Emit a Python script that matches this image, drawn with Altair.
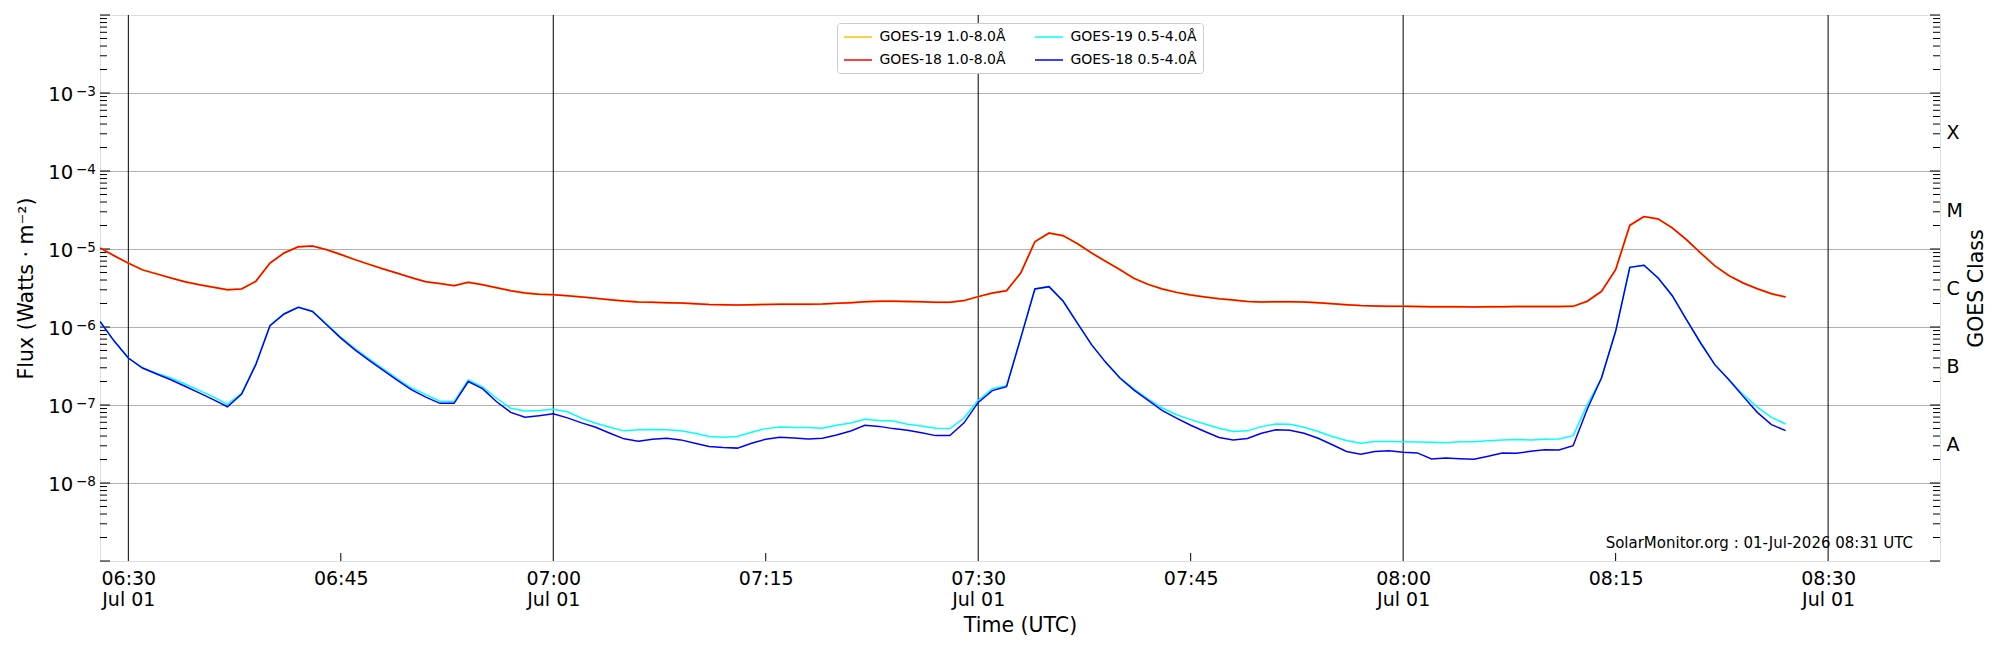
import altair as alt
import pandas as pd
import math

# ---------------- data ----------------
START = "2026-07-01 06:28:00"
X_END = "2026-07-01 08:37:54"
N_POINTS = 120  # 1-minute cadence

GOES18_XRSB = [1.03e-5, 8.2e-6, 6.6e-6, 5.4e-6, 4.8e-6, 4.26e-6, 3.8e-6, 3.49e-6, 3.23e-6, 3.0e-6,
               3.08e-6, 3.85e-6, 6.6e-6, 8.9e-6, 1.07e-5, 1.09e-5, 9.8e-6, 8.5e-6, 7.3e-6, 6.35e-6,
               5.55e-6, 4.88e-6, 4.29e-6, 3.8e-6, 3.6e-6, 3.39e-6, 3.74e-6, 3.49e-6, 3.19e-6, 2.92e-6,
               2.73e-6, 2.63e-6, 2.6e-6, 2.52e-6, 2.43e-6, 2.33e-6, 2.24e-6, 2.15e-6, 2.09e-6, 2.07e-6,
               2.05e-6, 2.03e-6, 1.99e-6, 1.95e-6, 1.93e-6, 1.91e-6, 1.93e-6, 1.95e-6, 1.96e-6, 1.96e-6,
               1.96e-6, 1.97e-6, 2.01e-6, 2.05e-6, 2.11e-6, 2.14e-6, 2.14e-6, 2.12e-6, 2.11e-6, 2.07e-6,
               2.07e-6, 2.18e-6, 2.45e-6, 2.73e-6, 2.92e-6, 4.92e-6, 1.24e-5, 1.6e-5, 1.48e-5, 1.17e-5,
               8.9e-6, 6.95e-6, 5.43e-6, 4.2e-6, 3.52e-6, 3.07e-6, 2.78e-6, 2.57e-6, 2.43e-6, 2.31e-6,
               2.22e-6, 2.13e-6, 2.09e-6, 2.11e-6, 2.11e-6, 2.09e-6, 2.05e-6, 1.99e-6, 1.93e-6, 1.88e-6,
               1.86e-6, 1.84e-6, 1.84e-6, 1.83e-6, 1.82e-6, 1.82e-6, 1.82e-6, 1.81e-6, 1.82e-6, 1.82e-6,
               1.83e-6, 1.83e-6, 1.83e-6, 1.83e-6, 1.84e-6, 2.14e-6, 2.86e-6, 5.43e-6, 2.01e-5, 2.6e-5,
               2.43e-5, 1.86e-5, 1.32e-5, 8.9e-6, 6.1e-6, 4.55e-6, 3.67e-6, 3.1e-6, 2.67e-6, 2.43e-6]

# GOES-19 long channel lies underneath GOES-18 everywhere in the picture
GOES19_XRSB = list(GOES18_XRSB)

GOES18_XRSA = [1.18e-6, 6.6e-7, 4.0e-7, 2.98e-7, 2.5e-7, 2.11e-7, 1.74e-7, 1.43e-7, 1.17e-7, 9.5e-8,
               1.38e-7, 3.29e-7, 1.04e-6, 1.47e-6, 1.79e-6, 1.58e-6, 1.07e-6, 7.2e-7, 5.1e-7, 3.74e-7,
               2.78e-7, 2.07e-7, 1.56e-7, 1.26e-7, 1.05e-7, 1.05e-7, 2.0e-7, 1.62e-7, 1.1e-7, 8.05e-8,
               6.97e-8, 7.3e-8, 7.7e-8, 6.84e-8, 5.9e-8, 5.19e-8, 4.35e-8, 3.68e-8, 3.44e-8, 3.65e-8,
               3.75e-8, 3.57e-8, 3.24e-8, 2.94e-8, 2.85e-8, 2.8e-8, 3.24e-8, 3.63e-8, 3.85e-8, 3.78e-8,
               3.66e-8, 3.74e-8, 4.12e-8, 4.65e-8, 5.5e-8, 5.32e-8, 4.98e-8, 4.73e-8, 4.42e-8, 4.05e-8,
               4.05e-8, 5.9e-8, 1.08e-7, 1.53e-7, 1.72e-7, 7.2e-7, 3.07e-6, 3.29e-6, 2.14e-6, 1.12e-6,
               5.94e-7, 3.52e-7, 2.22e-7, 1.55e-7, 1.15e-7, 8.45e-8, 6.8e-8, 5.5e-8, 4.57e-8, 3.83e-8,
               3.57e-8, 3.72e-8, 4.35e-8, 4.8e-8, 4.75e-8, 4.35e-8, 3.75e-8, 3.09e-8, 2.54e-8, 2.34e-8,
               2.54e-8, 2.59e-8, 2.47e-8, 2.43e-8, 2.03e-8, 2.09e-8, 2.05e-8, 2.01e-8, 2.2e-8, 2.43e-8,
               2.4e-8, 2.55e-8, 2.67e-8, 2.65e-8, 3.01e-8, 8.9e-8, 2.22e-7, 8.8e-7, 5.82e-6, 6.18e-6,
               4.25e-6, 2.52e-6, 1.24e-6, 6.24e-7, 3.29e-7, 2.11e-7, 1.29e-7, 8.05e-8, 5.6e-8, 4.69e-8]

GOES19_XRSA = [1.18e-6, 6.6e-7, 4.0e-7, 3.0e-7, 2.55e-7, 2.22e-7, 1.86e-7, 1.54e-7, 1.27e-7, 1.02e-7,
               1.41e-7, 3.35e-7, 1.05e-6, 1.48e-6, 1.8e-6, 1.6e-6, 1.09e-6, 7.4e-7, 5.3e-7, 3.9e-7,
               2.9e-7, 2.17e-7, 1.65e-7, 1.36e-7, 1.12e-7, 1.1e-7, 2.09e-7, 1.71e-7, 1.22e-7, 9.1e-8,
               8.4e-8, 8.5e-8, 8.8e-8, 8.2e-8, 6.76e-8, 5.83e-8, 5.19e-8, 4.66e-8, 4.8e-8, 4.84e-8,
               4.8e-8, 4.66e-8, 4.35e-8, 3.94e-8, 3.86e-8, 3.94e-8, 4.47e-8, 4.98e-8, 5.22e-8, 5.13e-8,
               5.13e-8, 5.02e-8, 5.5e-8, 5.89e-8, 6.55e-8, 6.31e-8, 6.24e-8, 5.65e-8, 5.38e-8, 5.02e-8,
               4.98e-8, 6.81e-8, 1.15e-7, 1.62e-7, 1.77e-7, 7.2e-7, 3.07e-6, 3.29e-6, 2.14e-6, 1.12e-6,
               5.94e-7, 3.52e-7, 2.25e-7, 1.6e-7, 1.19e-7, 9.16e-8, 7.5e-8, 6.49e-8, 5.71e-8, 5.04e-8,
               4.57e-8, 4.66e-8, 5.28e-8, 5.71e-8, 5.66e-8, 5.19e-8, 4.57e-8, 3.94e-8, 3.51e-8, 3.24e-8,
               3.4e-8, 3.4e-8, 3.39e-8, 3.36e-8, 3.32e-8, 3.29e-8, 3.39e-8, 3.39e-8, 3.49e-8, 3.56e-8,
               3.6e-8, 3.56e-8, 3.63e-8, 3.66e-8, 4.05e-8, 1.01e-7, 2.22e-7, 8.8e-7, 5.82e-6, 6.18e-6,
               4.25e-6, 2.52e-6, 1.24e-6, 6.24e-7, 3.29e-7, 2.11e-7, 1.36e-7, 9.4e-8, 6.95e-8, 5.7e-8]

# legend order (column-major): GOES-19 long, GOES-18 long | GOES-19 short, GOES-18 short
SERIES = ["GOES-19 1.0-8.0Å", "GOES-18 1.0-8.0Å", "GOES-19 0.5-4.0Å", "GOES-18 0.5-4.0Å"]
COLORS = ["#ffc000", "#ff0000", "#00ffff", "#0000ff"]

X_TICKS = ["06:30", "06:45", "07:00", "07:15", "07:30", "07:45", "08:00", "08:15", "08:30"]
HALF_HOURS = ["06:30", "07:00", "07:30", "08:00", "08:30"]
Y_DECADES = [1e-8, 1e-7, 1e-6, 1e-5, 1e-4, 1e-3]
CLASS_LABELS = ["A", "B", "C", "M", "X"]
CLASS_POS = [10 ** -7.5, 10 ** -6.5, 10 ** -5.5, 10 ** -4.5, 10 ** -3.5]
Y_TITLE = "Flux (Watts · m⁻²)"
X_TITLE = "Time (UTC)"
R_TITLE = "GOES Class"
ANNOTATION = "SolarMonitor.org : 01-Jul-2026 08:31 UTC"

# ---------------- helpers ----------------
def ms(ts):
    return int(pd.Timestamp(ts, tz="UTC").value // 10 ** 6)

T0 = ms(START)
T_END = ms(X_END)
TIMES = [T0 + 60000 * k for k in range(N_POINTS)]
DAY = "2026-07-01 "
X_TICK_MS = [ms(DAY + t) for t in X_TICKS]
HALF_MS = [ms(DAY + t) for t in HALF_HOURS]
QUARTER_MS = [v for v in X_TICK_MS if v not in HALF_MS]

MAJOR_TICKS = [10.0 ** e for e in range(-9, -1)]
MINOR_TICKS = [m * 10.0 ** e for e in range(-9, -2) for m in range(2, 10)]

W, H = 1840, 546
FONT = "DejaVu Sans"

xscale = alt.Scale(type="utc", domain=[T0, T_END], nice=False)
yscale = alt.Scale(type="log", domain=[1e-9, 1e-2], nice=False)
cscale = alt.Scale(domain=SERIES, range=COLORS)

x_label_expr = ("(utcFormat(datum.value, '%M') == '00' || utcFormat(datum.value, '%M') == '30') ? "
                "[utcFormat(datum.value, '%H:%M'), utcFormat(datum.value, '%b %d')] : "
                "utcFormat(datum.value, '%H:%M')")

x_axis = alt.Axis(values=X_TICK_MS, labelExpr=x_label_expr, grid=False, ticks=False, tickSize=0,
                  domain=False, labelFont=FONT, labelFontSize=19, labelColor="black",
                  labelPadding=8, labelLineHeight=21, labelAlign="center", labelBaseline="top",
                  labelOverlap=False, labelFlush=False, title=X_TITLE, titleFont=FONT,
                  titleFontSize=20.5, titleFontWeight="normal", titleColor="black",
                  titleX=W / 2, titleY=64, titleAlign="center", titleBaseline="middle")

left_axis = alt.Axis(values=Y_DECADES, labels=False, grid=True, gridColor="#b0b0b0",
                     gridWidth=1, ticks=False, tickSize=0, domain=False,
                     title=Y_TITLE, titleFont=FONT, titleFontSize=20.5, titleFontWeight="normal",
                     titleColor="black", titleAngle=270, titleX=-74, titleY=H / 2,
                     titleAlign="center", titleBaseline="middle")

class_expr = "[" + ",".join("'%s'" % c for c in CLASS_LABELS) + "][round(log(datum.value)/LN10 + 7.5)]"
right_axis = alt.Axis(orient="right", values=CLASS_POS, labelExpr=class_expr, grid=False,
                      ticks=False, tickSize=0, domain=False, labelFont=FONT, labelFontSize=19,
                      labelColor="black", labelPadding=6, labelOverlap=False, title=R_TITLE,
                      titleFont=FONT, titleFontSize=20.5, titleFontWeight="normal",
                      titleColor="black", titleAngle=270, titleX=36, titleY=H / 2,
                      titleAlign="center", titleBaseline="middle")

legend = alt.Legend(orient="none", legendX=737, legendY=8, columns=2, title=None,
                    symbolType="M-2,0H2", symbolSize=196, symbolOffset=7, symbolStrokeWidth=1.5,
                    labelFont=FONT, labelFontSize=14, labelColor="black", labelOffset=13.5,
                    columnPadding=26, rowPadding=8, padding=6, strokeColor="#cccccc",
                    fillColor="white", cornerRadius=3, labelLimit=300)

# ---------------- layers ----------------
vlines = alt.Chart(pd.DataFrame({"t": HALF_MS})).mark_rule(color="black", strokeWidth=1).encode(
    x=alt.X("t:T", scale=xscale, axis=x_axis))

qticks = alt.Chart(pd.DataFrame({"t": QUARTER_MS})).mark_rule(color="black", strokeWidth=1).encode(
    x=alt.X("t:T", scale=xscale, axis=None), y=alt.value(H), y2=alt.value(H - 8))

def ytick_layer(vals, x1, x2, axis):
    return alt.Chart(pd.DataFrame({"v": vals})).mark_rule(color="black", strokeWidth=1).encode(
        y=alt.Y("v:Q", scale=yscale, axis=axis), x=alt.value(x1), x2=alt.value(x2))

lmaj = ytick_layer(MAJOR_TICKS, 0, 10, left_axis)
lmin = ytick_layer(MINOR_TICKS, 0, 7, None)
rmaj = ytick_layer(MAJOR_TICKS, W, W - 10, right_axis)
rmin = ytick_layer(MINOR_TICKS, W, W - 7, None)

# y tick labels drawn as "10" with a raised exponent, positioned by the y scale
ylab_df = pd.DataFrame({"v": Y_DECADES,
                        "base": ["10"] * len(Y_DECADES),
                        "exp": ["\u2212%d" % round(-math.log10(v)) for v in Y_DECADES]})
ylab_base = alt.Chart(ylab_df).mark_text(align="right", baseline="alphabetic", dy=8.4,
                                         font=FONT, fontSize=19.6, color="black").encode(
    y=alt.Y("v:Q", scale=yscale, axis=None), x=alt.value(-26.7), text="base:N")
ylab_exp = alt.Chart(ylab_df).mark_text(align="left", baseline="alphabetic", dy=3.4,
                                        font=FONT, fontSize=13.5, color="black").encode(
    y=alt.Y("v:Q", scale=yscale, axis=None), x=alt.value(-24), text="exp:N")

def line_layer(name, vals, width):
    df = pd.DataFrame({"t": TIMES, "flux": vals, "series": name})
    return alt.Chart(df).mark_line(strokeWidth=width, clip=True).encode(
        x=alt.X("t:T", scale=xscale, axis=None),
        y=alt.Y("flux:Q", scale=yscale, axis=None),
        color=alt.Color("series:N", scale=cscale, legend=legend))

l_g19b = line_layer("GOES-19 1.0-8.0Å", GOES19_XRSB, 1.9)
l_g18b = line_layer("GOES-18 1.0-8.0Å", GOES18_XRSB, 1.5)
l_g19a = line_layer("GOES-19 0.5-4.0Å", GOES19_XRSA, 1.5)
l_g18a = line_layer("GOES-18 0.5-4.0Å", GOES18_XRSA, 1.5)

note = alt.Chart(alt.Data(values=[{"n": 1}])).mark_text(
    align="right", baseline="middle", font=FONT, fontSize=15, color="black").encode(
    x=alt.value(W - 27), y=alt.value(H - 18), text=alt.value(ANNOTATION))

chart = alt.layer(vlines, qticks, lmaj, lmin, rmaj, rmin, ylab_base, ylab_exp,
                  l_g19b, l_g18b, l_g19a, l_g18a, note).resolve_scale(
    x="shared", y="shared", color="shared").resolve_axis(x="independent", y="independent").properties(
    width=W, height=H, padding={"left": 92, "top": 7, "right": 52, "bottom": 81},
    autosize=alt.AutoSizeParams(type="none"), background="white").configure_view(
    stroke="black", strokeWidth=1.5).configure(font=FONT)

chart.save("out.html", embed_options={"renderer": "svg", "actions": False})
